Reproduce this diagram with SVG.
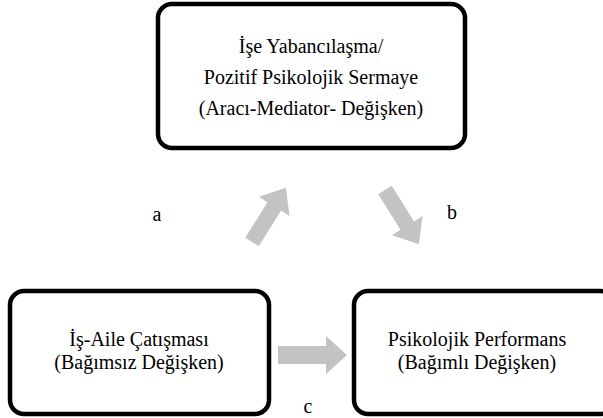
<svg xmlns="http://www.w3.org/2000/svg" width="603" height="418" viewBox="0 0 603 418">
<style>
.box{fill:#fff;stroke:#000;stroke-width:4.5}
.arr{fill:#c3c3c3}
</style>
<rect width="603" height="418" fill="#fff"/>
<g font-family="Liberation Serif" font-size="20" fill="#000" text-anchor="middle">
<g id="node-mediator">
<rect class="box" x="158" y="4" width="307" height="144" rx="14"/>
<text x="311" y="53">İşe Yabancılaşma/</text>
<text x="311" y="84">Pozitif Psikolojik Sermaye</text>
<text x="311" y="115">(Aracı-Mediator- Değişken)</text>
</g>
<g id="node-independent">
<rect class="box" x="10" y="291" width="259" height="123" rx="14"/>
<text x="139" y="346">İş-Aile Çatışması</text>
<text x="139" y="369">(Bağımsız Değişken)</text>
</g>
<g id="node-dependent">
<rect class="box" x="354" y="291" width="260" height="123" rx="14"/>
<text x="477" y="346">Psikolojik Performans</text>
<text x="477" y="369">(Bağımlı Değişken)</text>
</g>
<g id="connectors">
<polygon class="arr" transform="translate(252,242) rotate(-58)" points="0,-8 42,-8 42,-18 64,0 42,18 42,8 0,8"/>
<polygon class="arr" transform="translate(385,190) rotate(58)" points="0,-8 42,-8 42,-18 64,0 42,18 42,8 0,8"/>
<polygon class="arr" points="278,346 326,346 326,336 347,355 326,374 326,364 278,364"/>
<text x="157" y="221">a</text>
<text x="452" y="219">b</text>
<text x="308" y="413">c</text>
</g>
</g>
</svg>
